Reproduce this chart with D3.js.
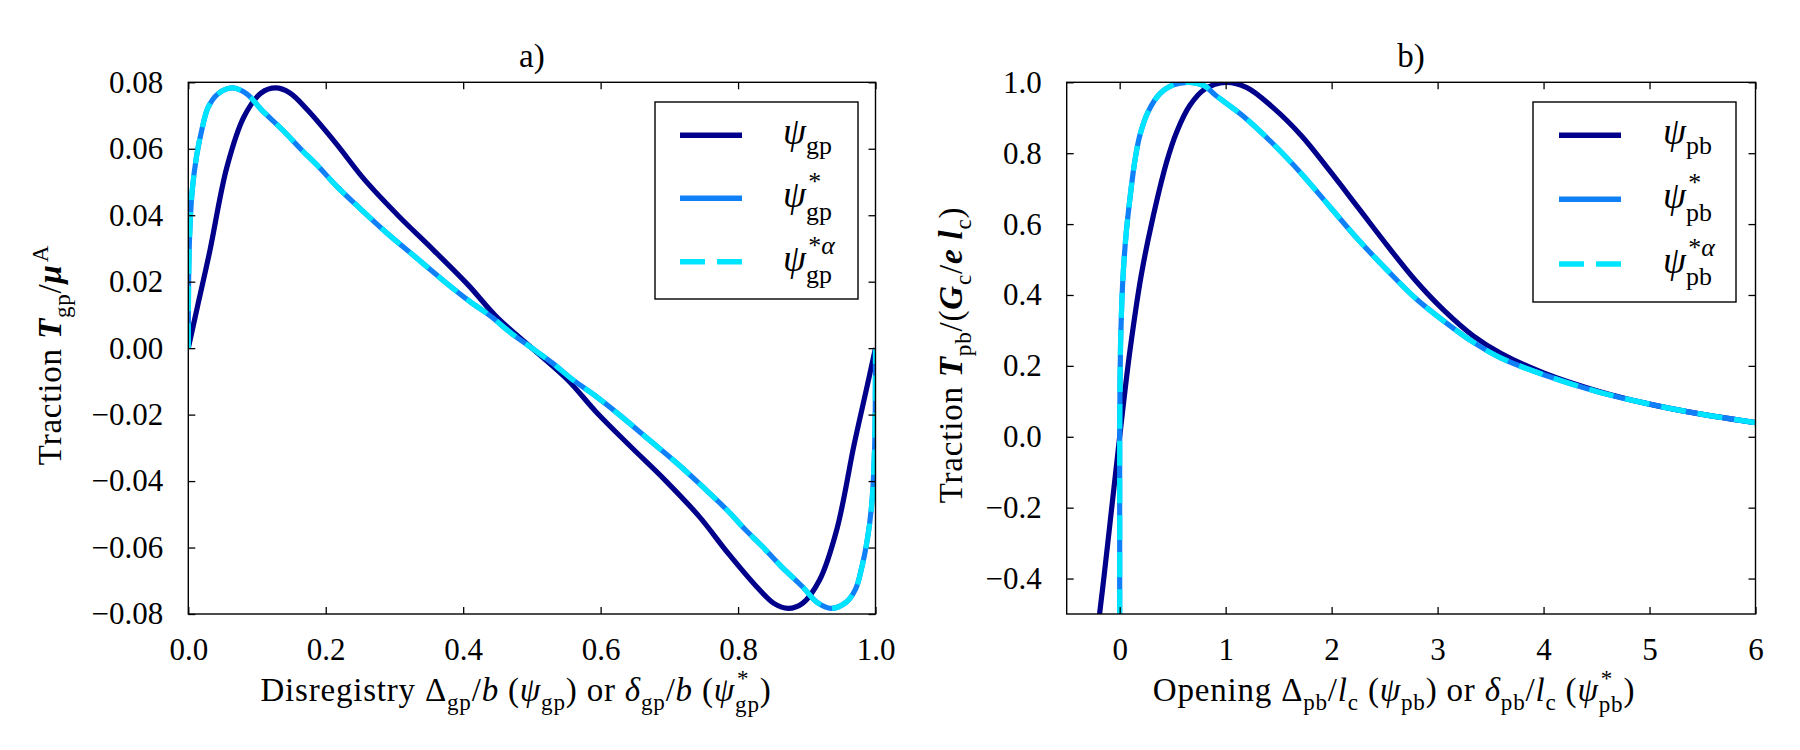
<!DOCTYPE html>
<html><head><meta charset="utf-8">
<script src="https://cdn.jsdelivr.net/npm/d3@7"></script>
<style>
body{margin:0;background:#fff;}
svg text{font-family:'Liberation Serif','Times New Roman',serif;fill:#000;white-space:pre;}
</style></head><body>
<svg id="chart" width="1800" height="750"></svg>
<script>
// ---------- data ----------
// panel a) generalized-stacking-fault traction
const gpX = [0, 0.0144, 0.0311, 0.0562, 0.0812, 0.1062, 0.127, 0.1479, 0.1729, 0.2146, 0.2564, 0.3063, 0.3564, 0.4065, 0.4482, 0.5, 0.5518, 0.5935, 0.6436, 0.6937, 0.7436, 0.7854, 0.8271, 0.8521, 0.873, 0.8938, 0.9188, 0.9438, 0.9689, 0.9856, 1.0];
const gpPsi = [0, 0.0135, 0.029, 0.0545, 0.0697, 0.0768, 0.0783, 0.0768, 0.0718, 0.0617, 0.0507, 0.0397, 0.0296, 0.0192, 0.0095, 0, -0.0095, -0.0192, -0.0296, -0.0397, -0.0507, -0.0617, -0.0718, -0.0768, -0.0783, -0.0768, -0.0697, -0.0545, -0.029, -0.0135, 0];
const gpStarX = [0, 0.0013, 0.0055, 0.0122, 0.02, 0.029, 0.043, 0.0645, 0.085, 0.1062, 0.138, 0.1646, 0.19, 0.2146, 0.25, 0.2897, 0.33, 0.3731, 0.41, 0.44, 0.47, 0.5, 0.53, 0.56, 0.59, 0.6269, 0.67, 0.7103, 0.75, 0.7854, 0.81, 0.8354, 0.862, 0.8938, 0.915, 0.9355, 0.957, 0.971, 0.98, 0.9878, 0.9945, 0.9987, 1.0];
const gpStar = [0, 0.030, 0.047, 0.058, 0.066, 0.0725, 0.0765, 0.0783, 0.0765, 0.0718, 0.0655, 0.0597, 0.0545, 0.049, 0.042, 0.0345, 0.0275, 0.02, 0.014, 0.0096, 0.0045, 0, -0.0045, -0.0096, -0.014, -0.02, -0.0275, -0.0345, -0.042, -0.049, -0.0545, -0.0597, -0.0655, -0.0718, -0.0765, -0.0783, -0.0765, -0.0725, -0.066, -0.058, -0.047, -0.030, 0];
const gpStarAlpha = [0, 0.030, 0.047, 0.058, 0.066, 0.0725, 0.0765, 0.0783, 0.0765, 0.0718, 0.0655, 0.0597, 0.0545, 0.049, 0.042, 0.0345, 0.0275, 0.02, 0.014, 0.0096, 0.0045, 0, -0.0045, -0.0096, -0.014, -0.02, -0.0275, -0.0345, -0.042, -0.049, -0.0545, -0.0597, -0.0655, -0.0718, -0.0765, -0.0783, -0.0765, -0.0725, -0.066, -0.058, -0.047, -0.030, 0];

// panel b) opening traction
const pbX = [-0.19, -0.15, -0.075, 0, 0.05, 0.1, 0.2, 0.3, 0.443, 0.538, 0.663, 0.8, 1.0, 1.2, 1.442, 1.713, 1.983, 2.254, 2.524, 2.794, 3.065, 3.335, 3.6, 4.0, 4.5, 5.0, 5.5, 6.0];
const pbPsi = [-0.5, -0.4, -0.2, 0, 0.13, 0.25, 0.45, 0.6, 0.775, 0.86, 0.935, 0.98, 1.0, 0.985, 0.93, 0.85, 0.75, 0.645, 0.54, 0.44, 0.355, 0.285, 0.235, 0.18, 0.13, 0.092, 0.063, 0.04];
const pbStarX = [0, 0, 0, 0.003, 0.009, 0.02, 0.035, 0.06, 0.09, 0.144, 0.19, 0.27, 0.38, 0.5, 0.65, 0.8, 0.902, 1.172, 1.442, 1.713, 1.983, 2.254, 2.524, 2.794, 3.065, 3.335, 3.6, 4.0, 4.5, 5.0, 5.5, 6.0];
const pbStar = [-0.5, -0.25, 0, 0.15, 0.27, 0.38, 0.47, 0.57, 0.655, 0.78, 0.85, 0.918, 0.968, 0.992, 1.0, 0.99, 0.964, 0.903, 0.828, 0.743, 0.649, 0.555, 0.47, 0.39, 0.325, 0.267, 0.222, 0.175, 0.128, 0.092, 0.063, 0.04];
const pbStarAlpha = [-0.5, -0.25, 0, 0.15, 0.27, 0.38, 0.47, 0.57, 0.655, 0.78, 0.85, 0.918, 0.968, 0.992, 1.0, 0.99, 0.964, 0.903, 0.828, 0.743, 0.649, 0.555, 0.47, 0.39, 0.325, 0.267, 0.222, 0.175, 0.128, 0.092, 0.063, 0.04];

// ticks
const gpXTicks = [0, 0.2, 0.4, 0.6, 0.8, 1.0];
const gpYTicks = [-0.08, -0.06, -0.04, -0.02, 0, 0.02, 0.04, 0.06, 0.08];
const pbXTicks = [0, 1, 2, 3, 4, 5, 6];
const pbYTicks = [-0.4, -0.2, 0, 0.2, 0.4, 0.6, 0.8, 1.0];

const colNavy = "#00008B", colBlue = "#1080F8", colCyan = "#00E5FF";

// ---------- helpers ----------
const svg = d3.select("#chart");
const FONT = "'Liberation Serif','Times New Roman',serif";
const TICK_FS = 31, LABEL_FS = 33, TITLE_FS = 33, LEG_FS = 37, LSPACE = 0.8;
const SUP_Y = -0.46, SUB_Y = 0.33;

function styleText(el, fs, s, ls) {
  el.attr("font-size", fs)
    .attr("font-style", s.includes("i") ? "italic" : "normal")
    .attr("font-weight", s.includes("b") ? "bold" : "normal")
    .style("font-family", FONT)
    .style("letter-spacing", (ls || 0) + "px");
}
function measure(g, t, fs, s, ls) {
  const el = g.append("text").text(t);
  styleText(el, fs, s, ls);
  const w = el.node().getComputedTextLength();
  el.remove();
  return w;
}
// lays out a small math expression as ONE <text> made of positioned tspans
function mathLabel(parent, pieces, fs, ls) {
  const g = parent.append("g");
  const spans = [];
  let x = 0;
  pieces.forEach(p => {
    const s = p.s || "n";
    spans.push({ t: p.t, x, y: 0, fs, s });
    x += measure(g, p.t, fs, s, ls);
    if (!p.sup && !p.sub) return;
    const sfs = fs * 0.7;
    const ic = (s.includes("i") && p.sup) ? fs * 0.06 : 0;
    const both = p.sup && p.sub;
    let wSup = 0, wSub = 0;
    if (p.sup) {
      let cx = x + ic;
      p.sup.forEach(([t, st]) => { spans.push({ t, x: cx, y: (both ? SUP_Y : -0.40) * fs, fs: sfs, s: st }); cx += measure(g, t, sfs, st, ls); });
      wSup = cx - x;
    }
    if (p.sub) {
      let cx = x;
      p.sub.forEach(([t, st]) => { spans.push({ t, x: cx, y: (both ? SUB_Y : 0.26) * fs, fs: sfs, s: st }); cx += measure(g, t, sfs, st, ls); });
      wSub = cx - x;
    }
    x += Math.max(wSup, wSub);
  });
  const text = g.append("text");
  styleText(text, fs, "n", ls);
  spans.forEach(sp => {
    text.append("tspan").attr("x", sp.x).attr("y", sp.y).attr("font-size", sp.fs)
      .attr("font-style", sp.s.includes("i") ? "italic" : "normal")
      .attr("font-weight", sp.s.includes("b") ? "bold" : "normal")
      .text(sp.t);
  });
  return { g, width: x };
}

function panel(cfg) {
  const x = d3.scaleLinear().domain(cfg.xDom).range([cfg.left, cfg.right]);
  const y = d3.scaleLinear().domain(cfg.yDom).range([cfg.bottom, cfg.top]);
  const root = svg.append("g");
  const clipId = "clip" + cfg.id;
  root.append("clipPath").attr("id", clipId).append("rect")
    .attr("x", cfg.left).attr("y", cfg.top)
    .attr("width", cfg.right - cfg.left).attr("height", cfg.bottom - cfg.top);

  const lines = root.append("g").attr("clip-path", `url(#${clipId})`);
  const gen = d3.line().x(d => x(d[0])).y(d => y(d[1])).curve(d3.curveCatmullRom.alpha(0.5));
  cfg.series.forEach(s => {
    const pts = s.xs.map((v, i) => [v, s.ys[i]]);
    lines.append("path").attr("d", gen(pts)).attr("fill", "none")
      .attr("stroke", s.color).attr("stroke-width", 5.2)
      .attr("stroke-linejoin", "round")
      .attr("stroke-dasharray", s.dash || null);
  });

  // axes (ticks inward on all sides)
  const axB = d3.axisBottom(x).tickValues(cfg.xTicks).tickFormat(cfg.xFmt)
    .tickSizeInner(-7).tickSizeOuter(0).tickPadding(24);
  const axT = d3.axisTop(x).tickValues(cfg.xTicks).tickFormat("")
    .tickSizeInner(-7).tickSizeOuter(0);
  const axL = d3.axisLeft(y).tickValues(cfg.yTicks).tickFormat(cfg.yFmt)
    .tickSizeInner(-7).tickSizeOuter(0).tickPadding(25);
  const axR = d3.axisRight(y).tickValues(cfg.yTicks).tickFormat("")
    .tickSizeInner(-7).tickSizeOuter(0);
  const style = g => {
    g.attr("font-family", null).attr("font-size", null);
    g.select(".domain").remove();
    g.selectAll(".tick line").attr("stroke", "#000").attr("stroke-width", 1.3);
    g.selectAll(".tick text").attr("font-size", TICK_FS).style("font-family", FONT).attr("fill", "#000");
  };
  root.append("g").attr("transform", `translate(0,${cfg.bottom})`).call(axB).call(style);
  root.append("g").attr("transform", `translate(0,${cfg.top})`).call(axT).call(style);
  root.append("g").attr("transform", `translate(${cfg.left},0)`).call(axL).call(style);
  root.append("g").attr("transform", `translate(${cfg.right},0)`).call(axR).call(style);

  root.append("rect").attr("x", cfg.left).attr("y", cfg.top)
    .attr("width", cfg.right - cfg.left).attr("height", cfg.bottom - cfg.top)
    .attr("fill", "none").attr("stroke", "#000").attr("stroke-width", 1.4);

  // title
  const tt = root.append("text").attr("x", (cfg.left + cfg.right) / 2).attr("y", 67)
    .attr("text-anchor", "middle").text(cfg.title);
  styleText(tt, TITLE_FS, "n", 0);

  // x label
  const xl = mathLabel(root, cfg.xLabel, LABEL_FS, LSPACE);
  xl.g.attr("transform", `translate(${cfg.xLabelCx - xl.width / 2},701)`);
  // y label
  const yl = mathLabel(root, cfg.yLabel, LABEL_FS, LSPACE);
  yl.g.attr("transform", `translate(${cfg.yLabelX},${355 + yl.width / 2}) rotate(-90)`);

  // legend
  const L = cfg.legend;
  const lg = root.append("g");
  lg.append("rect").attr("x", L.x0).attr("y", L.y0).attr("width", L.x1 - L.x0).attr("height", L.y1 - L.y0)
    .attr("fill", "#fff").attr("stroke", "#000").attr("stroke-width", 1.4);
  cfg.series.forEach((s, i) => {
    const ry = L.rows[i];
    lg.append("line").attr("x1", L.lx0).attr("x2", L.lx1).attr("y1", ry).attr("y2", ry)
      .attr("stroke", s.color).attr("stroke-width", 5.5).attr("stroke-dasharray", s.dash || null);
    const t = mathLabel(lg, s.label, LEG_FS, 0);
    t.g.attr("transform", `translate(${L.tx},${ry + 9})`);
  });
}

const sub = t => [[t, "n"]];

panel({
  id: "a", title: "a)",
  left: 188.3, right: 875.5, top: 82.3, bottom: 614,
  xDom: [0, 1], yDom: [-0.08, 0.08],
  xTicks: gpXTicks, yTicks: gpYTicks,
  xFmt: d3.format(".1f"), yFmt: d3.format(".2f"),
  series: [
    { xs: gpX, ys: gpPsi, color: colNavy, label: [{ t: "ψ", s: "i", sub: sub("gp") }] },
    { xs: gpStarX, ys: gpStar, color: colBlue, label: [{ t: "ψ", s: "i", sup: [["*", "n"]], sub: sub("gp") }] },
    { xs: gpStarX, ys: gpStarAlpha, color: colCyan, dash: "25,12", label: [{ t: "ψ", s: "i", sup: [["*", "n"], ["α", "i"]], sub: sub("gp") }] }
  ],
  xLabelCx: 516,
  xLabel: [{ t: "Disregistry " }, { t: "Δ", sub: sub("gp") }, { t: "/" }, { t: "b", s: "i" }, { t: " (" },
    { t: "ψ", s: "i", sub: sub("gp") }, { t: ") or " }, { t: "δ", s: "i", sub: sub("gp") }, { t: "/" }, { t: "b", s: "i" },
    { t: " (" }, { t: "ψ", s: "i", sup: [["*", "n"]], sub: sub("gp") }, { t: ")" }],
  yLabelX: 61,
  yLabel: [{ t: "Traction " }, { t: "T", s: "bi", sub: sub("gp") }, { t: "/" }, { t: "μ", s: "bi", sup: [["A", "n"]] }],
  legend: { x0: 655, y0: 102, x1: 858, y1: 299, lx0: 680, lx1: 742, rows: [135.3, 198.3, 261.7], tx: 783 }
});

panel({
  id: "b", title: "b)",
  left: 1066.7, right: 1755.5, top: 82.3, bottom: 614,
  xDom: [-0.5, 6], yDom: [-0.5, 1.0],
  xTicks: pbXTicks, yTicks: pbYTicks,
  xFmt: d3.format("d"), yFmt: d3.format(".1f"),
  series: [
    { xs: pbX, ys: pbPsi, color: colNavy, label: [{ t: "ψ", s: "i", sub: sub("pb") }] },
    { xs: pbStarX, ys: pbStar, color: colBlue, label: [{ t: "ψ", s: "i", sup: [["*", "n"]], sub: sub("pb") }] },
    { xs: pbStarX, ys: pbStarAlpha, color: colCyan, dash: "25,12", label: [{ t: "ψ", s: "i", sup: [["*", "n"], ["α", "i"]], sub: sub("pb") }] }
  ],
  xLabelCx: 1394,
  xLabel: [{ t: "Opening " }, { t: "Δ", sub: sub("pb") }, { t: "/" }, { t: "l", s: "i", sub: sub("c") }, { t: " (" },
    { t: "ψ", s: "i", sub: sub("pb") }, { t: ") or " }, { t: "δ", s: "i", sub: sub("pb") }, { t: "/" }, { t: "l", s: "i", sub: sub("c") },
    { t: " (" }, { t: "ψ", s: "i", sup: [["*", "n"]], sub: sub("pb") }, { t: ")" }],
  yLabelX: 962,
  yLabel: [{ t: "Traction " }, { t: "T", s: "bi", sub: sub("pb") }, { t: "/(" }, { t: "G", s: "bi", sub: sub("c") }, { t: "/" },
    { t: "e", s: "bi" }, { t: " " }, { t: "l", s: "bi", sub: sub("c") }, { t: ")" }],
  legend: { x0: 1533, y0: 102, x1: 1736, y1: 302, lx0: 1559, lx1: 1621, rows: [135.3, 199.3, 264], tx: 1663 }
});
</script>
</body></html>
